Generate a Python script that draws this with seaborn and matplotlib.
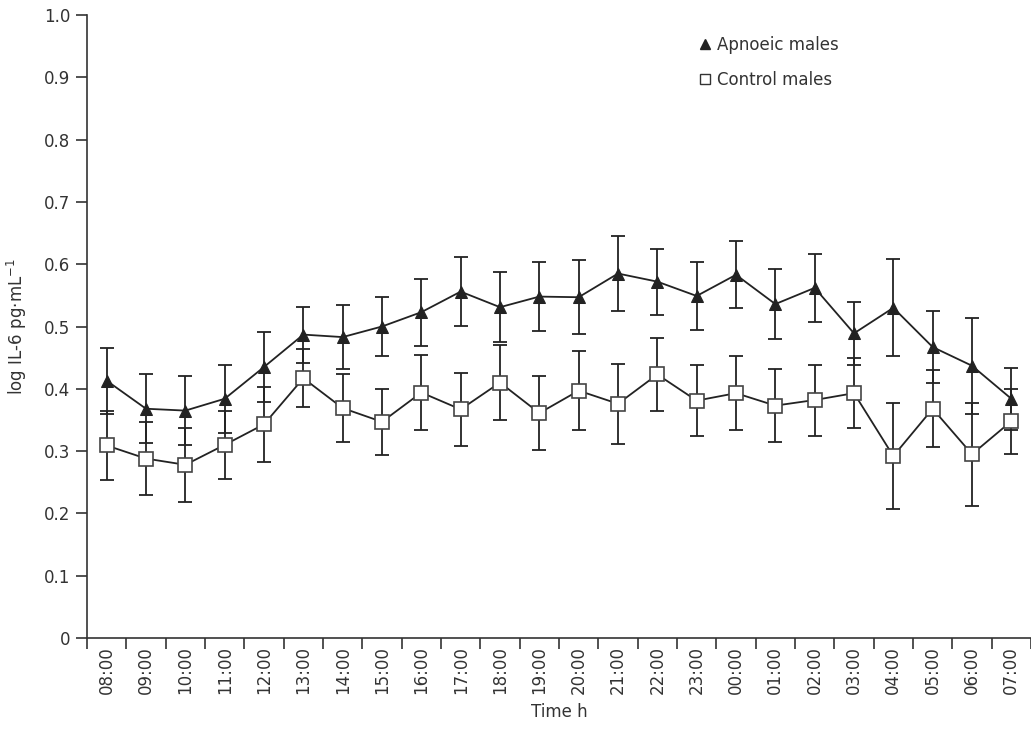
import numpy as np
import pandas as pd
import matplotlib
matplotlib.use("Agg")
import matplotlib.pyplot as plt
import seaborn as sns
from matplotlib.lines import Line2D

times = ["08:00", "09:00", "10:00", "11:00", "12:00", "13:00", "14:00", "15:00",
         "16:00", "17:00", "18:00", "19:00", "20:00", "21:00", "22:00", "23:00",
         "00:00", "01:00", "02:00", "03:00", "04:00", "05:00", "06:00", "07:00"]
apnoeic_mean = [0.413, 0.368, 0.365, 0.384, 0.435, 0.487, 0.483, 0.500,
                0.523, 0.556, 0.531, 0.548, 0.547, 0.585, 0.572, 0.549,
                0.583, 0.536, 0.562, 0.489, 0.530, 0.467, 0.437, 0.384]
apnoeic_err = [0.053, 0.055, 0.055, 0.055, 0.056, 0.045, 0.051, 0.048,
               0.054, 0.055, 0.056, 0.055, 0.059, 0.060, 0.053, 0.054,
               0.054, 0.056, 0.054, 0.051, 0.078, 0.058, 0.077, 0.050]
control_mean = [0.309, 0.288, 0.278, 0.310, 0.343, 0.417, 0.369, 0.347,
                0.394, 0.367, 0.410, 0.361, 0.397, 0.376, 0.423, 0.381,
                0.393, 0.373, 0.382, 0.393, 0.292, 0.368, 0.295, 0.348]
control_err = [0.056, 0.059, 0.059, 0.055, 0.060, 0.047, 0.055, 0.053,
               0.060, 0.059, 0.060, 0.059, 0.063, 0.064, 0.059, 0.057,
               0.059, 0.058, 0.057, 0.056, 0.085, 0.062, 0.083, 0.052]
series_names = ["Apnoeic males", "Control males"]

sns.set_theme(style="ticks")
plt.rcParams['font.family'] = ['DejaVu Sans']

pos = np.arange(len(times)) + 0.5
df = pd.DataFrame({
    "pos": np.concatenate([pos, pos]),
    "value": apnoeic_mean + control_mean,
    "err": apnoeic_err + control_err,
    "group": [series_names[0]] * len(times) + [series_names[1]] * len(times),
})

fig = plt.figure(figsize=(10.31, 7.33), dpi=100)
ax = fig.add_axes([87 / 1031, 95 / 733, 944 / 1031, 623 / 733])

ink = "#222222"
for name, sub in df.groupby("group", sort=False):
    ax.errorbar(sub["pos"], sub["value"], yerr=sub["err"], fmt="none",
                ecolor=ink, elinewidth=1.3, capsize=5, capthick=1.3, zorder=2)

sns.lineplot(data=df, x="pos", y="value", hue="group", style="group",
             palette={series_names[0]: ink, series_names[1]: ink},
             markers={series_names[0]: "^", series_names[1]: "s"},
             dashes=False, linewidth=1.3, markersize=10, ax=ax, zorder=3,
             legend=False)
lines = ax.get_lines()
lines[-2].set_markerfacecolor(ink)
lines[-2].set_markeredgecolor(ink)
lines[-1].set_markerfacecolor("white")
lines[-1].set_markeredgecolor("#444444")
lines[-1].set_markeredgewidth(1.2)
lines[-2].set_markersize(9)
lines[-1].set_markersize(10)

ax.set_xlim(0, len(times))
ax.set_ylim(0, 1.0)
ax.set_xticks(np.arange(len(times) + 1))
ax.set_xticklabels([])
ax.set_xticks(pos, minor=True)
ax.set_xticklabels(times, minor=True, rotation=90, fontsize=12, color="#333333")
ax.tick_params(axis="x", which="major", length=8, width=1.2, color="#333333", direction="out")
ax.tick_params(axis="x", which="minor", length=0, pad=6)
ax.set_yticks(np.arange(0, 1.01, 0.1))
ax.set_yticklabels(["0"] + [f"{v:.1f}" for v in np.arange(0.1, 1.01, 0.1)],
                   fontsize=12, color="#333333")
ax.tick_params(axis="y", length=8, width=1.2, color="#333333", direction="out", pad=4)

for s in ["top", "right"]:
    ax.spines[s].set_visible(False)
for s in ["left", "bottom"]:
    ax.spines[s].set_linewidth(1.2)
    ax.spines[s].set_color("#333333")

ax.set_xlabel("Time h", fontsize=12, color="#333333", labelpad=6)
ax.set_ylabel(r"log IL-6 pg·mL$^{-1}$", fontsize=12, color="#333333")
ax.yaxis.set_label_coords(-0.0614, 0.5)

handles = [Line2D([], [], linestyle="none", marker="^", color=ink, markersize=7.5),
           Line2D([], [], linestyle="none", marker="s", markerfacecolor="white",
                  markeredgecolor="#333333", markersize=7.5)]
ax.legend(handles, series_names, loc="upper left", bbox_to_anchor=(0.628, 0.99),
          frameon=False, fontsize=12, handletextpad=0.15, handlelength=1.2,
          labelspacing=1.0, labelcolor="#333333")

fig.savefig("out.png", dpi=100)
